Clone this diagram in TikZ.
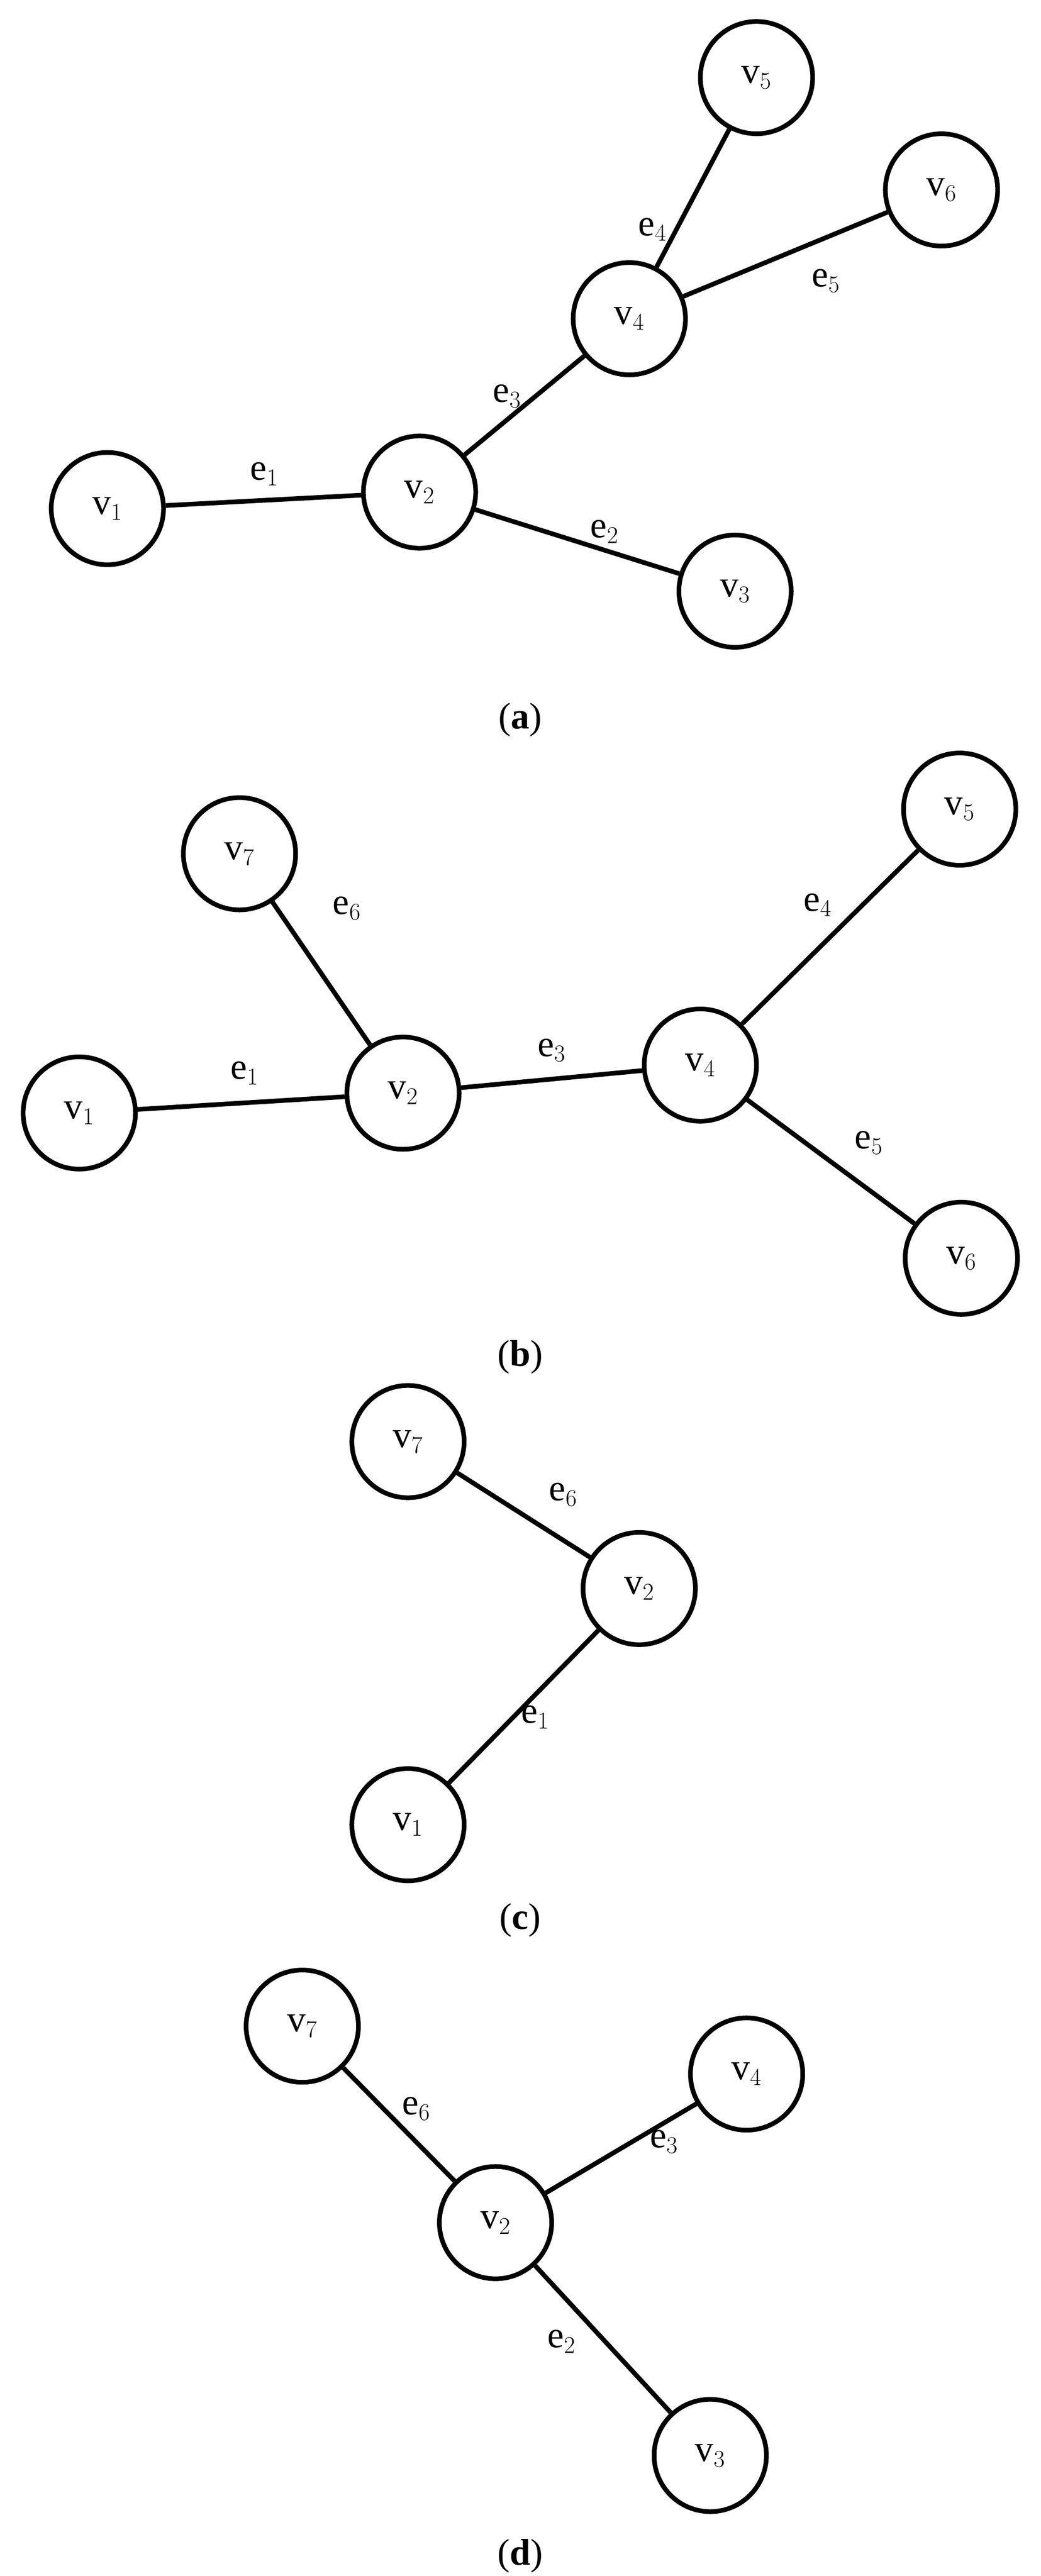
\documentclass[tikz,border=0pt]{standalone}
\usepackage{fontspec}
\setmainfont{Liberation Serif}
\usetikzlibrary{positioning}
\tikzstyle{vertex} =
  [circle, draw, line width=4pt, minimum size=3.4cm, inner sep=0pt,
   font=\fontsize{32}{38}\selectfont]
\tikzstyle{edge}=[draw,line width=4pt]
\tikzstyle{lab}=[font=\fontsize{32}{38}\selectfont]

\begin{document}
\begin{tikzpicture}[x=0.05cm, y=-0.05cm]
  \useasboundingbox (0,0) rectangle (630,1560);
  % (a)
  \node [vertex] (a1) at (65,308) {v$_1$};
  \node [vertex] (a2) at (254,298) {v$_2$};
  \node [vertex] (a3) at (445,358) {v$_3$};
  \node [vertex] (a4) at (381,193) {v$_4$};
  \node [vertex] (a5) at (458,47) {v$_5$};
  \node [vertex] (a6) at (570,115) {v$_6$};
  \draw [edge] (a1) -- (a2);
  \draw [edge] (a2) -- (a3);
  \draw [edge] (a2) -- (a4);
  \draw [edge] (a4) -- (a5);
  \draw [edge] (a4) -- (a6);
  \node [lab] at (160,287) {e$_1$};
  \node [lab] at (366,322) {e$_2$};
  \node [lab] at (307,240) {e$_3$};
  \node [lab] at (395,139) {e$_4$};
  \node [lab] at (500,170) {e$_5$};
  \node [lab] (capa) at (315,436) {(\textbf{a})};

  % (b)
  \node [vertex] (b7) at (145,517) {v$_7$};
  \node [vertex] (b1) at (48,674) {v$_1$};
  \node [vertex] (b2) at (244,662) {v$_2$};
  \node [vertex] (b4) at (424,645) {v$_4$};
  \node [vertex] (b5) at (581,490) {v$_5$};
  \node [vertex] (b6) at (582,762) {v$_6$};
  \draw [edge] (b7) -- (b2);
  \draw [edge] (b1) -- (b2);
  \draw [edge] (b2) -- (b4);
  \draw [edge] (b4) -- (b5);
  \draw [edge] (b4) -- (b6);
  \node [lab] at (210,550) {e$_6$};
  \node [lab] at (148,650) {e$_1$};
  \node [lab] at (334,636) {e$_3$};
  \node [lab] at (495,548) {e$_4$};
  \node [lab] at (526,692) {e$_5$};
  \node [lab] (capb) at (315,822) {(\textbf{b})};

  % (c)
  \node [vertex] (c7) at (247,873) {v$_7$};
  \node [vertex] (c2) at (387,962) {v$_2$};
  \node [vertex] (c1) at (247,1105) {v$_1$};
  \draw [edge] (c7) -- (c2);
  \draw [edge] (c1) -- (c2);
  \node [lab] at (341,905) {e$_6$};
  \node [lab] at (324,1040) {e$_1$};
  \node [lab] (capc) at (315,1163) {(\textbf{c})};

  % (d)
  \node [vertex] (d7) at (183,1227) {v$_7$};
  \node [vertex] (d4) at (452,1256) {v$_4$};
  \node [vertex] (d2) at (300,1346) {v$_2$};
  \node [vertex] (d3) at (430,1487) {v$_3$};
  \draw [edge] (d7) -- (d2);
  \draw [edge] (d4) -- (d2);
  \draw [edge] (d2) -- (d3);
  \node [lab] at (252,1277) {e$_6$};
  \node [lab] at (402,1297) {e$_3$};
  \node [lab] at (340,1418) {e$_2$};
  \node [lab] (capd) at (315,1548) {(\textbf{d})};
\end{tikzpicture}
\end{document}
